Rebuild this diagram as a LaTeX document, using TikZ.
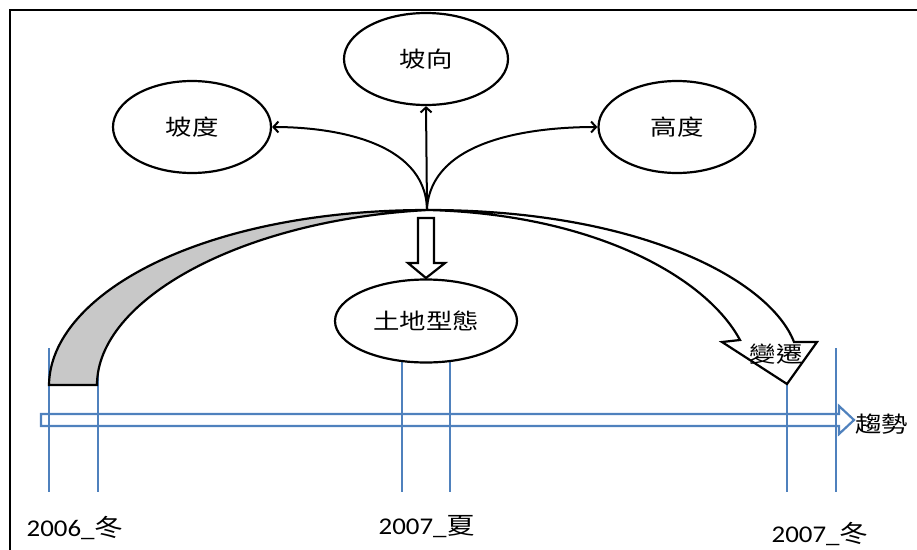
\documentclass[tikz,border=0pt]{standalone}
\usepackage{fontspec}
\setmainfont{Carlito}[FakeStretch=1.12]
\newfontfamily\cjk{Noto Sans CJK TC}[FakeStretch=1.2]
\usetikzlibrary{shapes.geometric,arrows.meta}
\definecolor{tlblue}{RGB}{79,129,189}
\definecolor{bandgray}{RGB}{200,200,200}
\begin{document}
\begin{tikzpicture}[x=1pt,y=-1pt,
  bubble/.style={ellipse,draw,fill=white,line width=2.2pt,inner sep=0pt,font=\cjk\fontsize{22}{26}\selectfont},
  thinarr/.style={line width=2pt,-{Straight Barb[length=5pt,width=11pt]}},
  outl/.style={line width=2.2pt,line join=miter},
  tick/.style={tlblue,line width=1.1pt},
  cjklbl/.style={font=\cjk\fontsize{22}{26}\selectfont,inner sep=0pt},
  lbl/.style={font=\fontsize{24}{28}\selectfont,inner sep=0pt}]
\useasboundingbox (0,0) rectangle (917,549);
% frame
\draw[line width=2.6pt] (10,560) -- (10,10) -- (930,10);
% ticks
\draw[tick] (49,348) -- (49,492);
\draw[tick] (98,375) -- (98,492);
\draw[tick] (402,345) -- (402,492);
\draw[tick] (450,345) -- (450,492);
\draw[tick] (787,370) -- (787,492);
\draw[tick] (836,348) -- (836,492);
% timeline arrow
\draw[tlblue,line width=2.2pt,line join=miter] (41,414) -- (839,414) -- (839,406) -- (854,420) -- (839,434) -- (839,426) -- (41,426) -- cycle;
% left band
\draw[outl,fill=bandgray] (49,385) .. controls (50,295) and (200,210) .. (428,210)
   .. controls (240,220) and (97,300) .. (97,385) -- cycle;
% right curved arrow
\draw[outl,fill=white] (428,210) .. controls (640,210) and (770,280) .. (794,342)
   -- (817,342) -- (787,384) -- (722,342) -- (740,340)
   .. controls (705,275) and (590,214) .. (428,210) -- cycle;
% block arrow down
\draw[outl,fill=white] (418,218) -- (434,218) -- (434,263) -- (445,263) -- (426,278) -- (408,263) -- (418,263) -- cycle;
% nodes
\node[bubble,minimum width=164pt,minimum height=92pt] (po) at (426,59) {坡向};
\node[bubble,minimum width=158pt,minimum height=92pt] (pd) at (192,127) {坡度};
\node[bubble,minimum width=157pt,minimum height=92pt] (gd) at (677,127) {高度};
\node[bubble,minimum width=182pt,minimum height=83pt] (land) at (426,321) {土地型態};
\node[cjklbl] (bq) at (776,354) {變遷};
\node[cjklbl,anchor=west] (trend) at (855,424) {趨勢};
\node[lbl] (l1) at (75,528) {2006\_{\cjk 冬}};
\node[lbl] (l2) at (427,527) {2007\_{\cjk 夏}};
\node[lbl] (l3) at (820,534) {2007\_{\cjk 冬}};
% thin arrows
\coordinate (o) at (427,209);
\draw[thinarr] (o) -- (po.south);
\draw[thinarr] (o) .. controls (425,140) and (330,127) .. (pd.east);
\draw[thinarr] (o) .. controls (431,140) and (530,127) .. (gd.west);
\end{tikzpicture}
\end{document}
